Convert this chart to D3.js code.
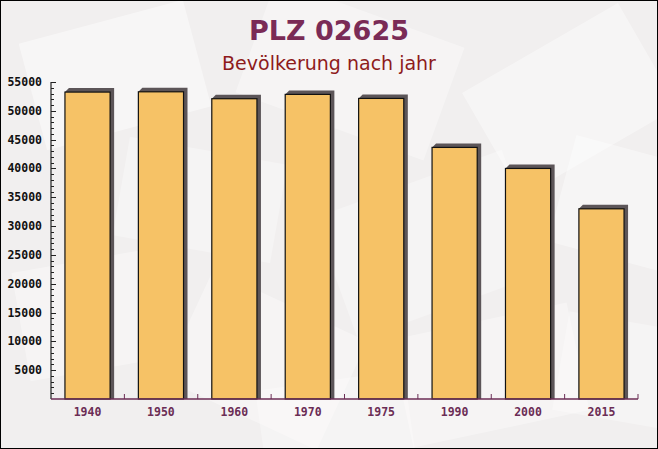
<!DOCTYPE html>
<html><head><meta charset="utf-8">
<script src="https://cdn.jsdelivr.net/npm/d3@7"></script>
<style>html,body{margin:0;padding:0;background:#fff}svg{display:block}</style>
</head><body>
<script>
const years = ["1940","1950","1960","1970","1975","1990","2000","2015"];
const population = [53250, 53300, 52100, 52850, 52150, 43650, 40000, 33000];
const yTicks = [5000,10000,15000,20000,25000,30000,35000,40000,45000,50000,55000];
const titleText = "PLZ 02625";
const subtitleText = "Bevölkerung nach jahr";

const W = 658, H = 449;
const m = {left: 51, right: 20, top: 82, bottom: 50};
const svg = d3.select("body").append("svg").attr("width", W).attr("height", H);

// background
svg.append("rect").attr("width", W).attr("height", H).attr("fill", "#f1efef");
const deco = svg.append("g").attr("fill", "#ffffff");
[[30,20,170,110,-15,0.45],[250,10,200,120,20,0.35],[480,40,180,120,-30,0.4],[560,150,130,110,15,0.4],
 [120,150,160,100,10,0.3],[330,180,200,130,-20,0.3],[20,260,140,110,-10,0.35],[180,300,170,120,25,0.35],
 [400,320,180,110,-12,0.35],[560,320,110,100,10,0.3],[260,380,150,80,-8,0.3]].forEach(d => {
  deco.append("rect").attr("x", d[0]).attr("y", d[1]).attr("width", d[2]).attr("height", d[3])
    .attr("opacity", d[5]).attr("transform", `rotate(${d[4]},${d[0]+d[2]/2},${d[1]+d[3]/2})`);
});

const x = d3.scaleBand().domain(years).range([m.left, W - m.right]).paddingInner(0.385).paddingOuter(0.19);
const y = d3.scaleLinear().domain([0, 55000]).range([H - m.bottom, m.top]);
const base = y(0);

// title
svg.append("text").attr("x", 329).attr("y", 40).attr("text-anchor", "middle")
  .attr("font-family", "DejaVu Sans").attr("font-weight", "bold").attr("font-size", 27)
  .attr("fill", "#7a2b56").text(titleText);
svg.append("text").attr("x", 329).attr("y", 70).attr("text-anchor", "middle")
  .attr("font-family", "DejaVu Sans").attr("font-size", 19)
  .attr("fill", "#8e1b1b").text(subtitleText);

// bars
const bars = svg.append("g");
years.forEach((yr, i) => {
  const bx = x(yr), bw = x.bandwidth(), by = y(population[i]);
  bars.append("polygon")
    .attr("points", [[bx, by], [bx+4, by-4], [bx+bw+4, by-4], [bx+bw+4, base], [bx+bw, base]].map(p => p.join(",")).join(" "))
    .attr("fill", "#5c5558");
  bars.append("rect").attr("x", bx).attr("y", by).attr("width", bw).attr("height", base - by)
    .attr("fill", "#f6c266").attr("stroke", "#111").attr("stroke-width", 1.2);
});

// y axis
const yAxisG = svg.append("g").attr("transform", `translate(${m.left},0)`);
yAxisG.append("line").attr("x1", 0).attr("x2", 0).attr("y1", y(55000)).attr("y2", base).attr("stroke", "#222").attr("stroke-width", 1.2);
yAxisG.selectAll("line.minor").data(d3.range(1000, 55001, 1000)).enter().append("line")
  .attr("x1", 0).attr("x2", d => d % 5000 === 0 ? 5 : 3)
  .attr("y1", d => Math.round(y(d)) + 0.5).attr("y2", d => Math.round(y(d)) + 0.5)
  .attr("stroke", "#222").attr("stroke-width", 1);
yAxisG.selectAll("text").data(yTicks).enter().append("text")
  .attr("x", -9).attr("y", d => y(d)).attr("dy", "0.35em").attr("text-anchor", "end")
  .attr("font-family", "DejaVu Sans Mono").attr("font-weight", "bold").attr("font-size", 11.5)
  .attr("fill", "#111").text(d => d);

// x axis
const xAxisG = svg.append("g").attr("transform", `translate(0,${base})`);
xAxisG.append("line").attr("x1", m.left).attr("x2", W - m.right).attr("y1", 0).attr("y2", 0)
  .attr("stroke", "#6b2d55").attr("stroke-width", 1.5);
xAxisG.selectAll("line.t").data(d3.range(1, years.length + 1)).enter().append("line")
  .attr("x1", k => m.left + k * (W - m.right - m.left) / years.length)
  .attr("x2", k => m.left + k * (W - m.right - m.left) / years.length)
  .attr("y1", 0).attr("y2", -5).attr("stroke", "#6b2d55").attr("stroke-width", 1);
xAxisG.selectAll("text").data(years).enter().append("text")
  .attr("x", d => x(d) + x.bandwidth() / 2).attr("y", 13).attr("dy", "0.35em").attr("text-anchor", "middle")
  .attr("font-family", "DejaVu Sans Mono").attr("font-weight", "bold").attr("font-size", 11.5)
  .attr("fill", "#6b2d55").text(d => d);

// border
svg.append("rect").attr("x", 0.5).attr("y", 0.5).attr("width", W - 1).attr("height", H - 1)
  .attr("fill", "none").attr("stroke", "#000").attr("stroke-width", 1);
</script>
</body></html>
